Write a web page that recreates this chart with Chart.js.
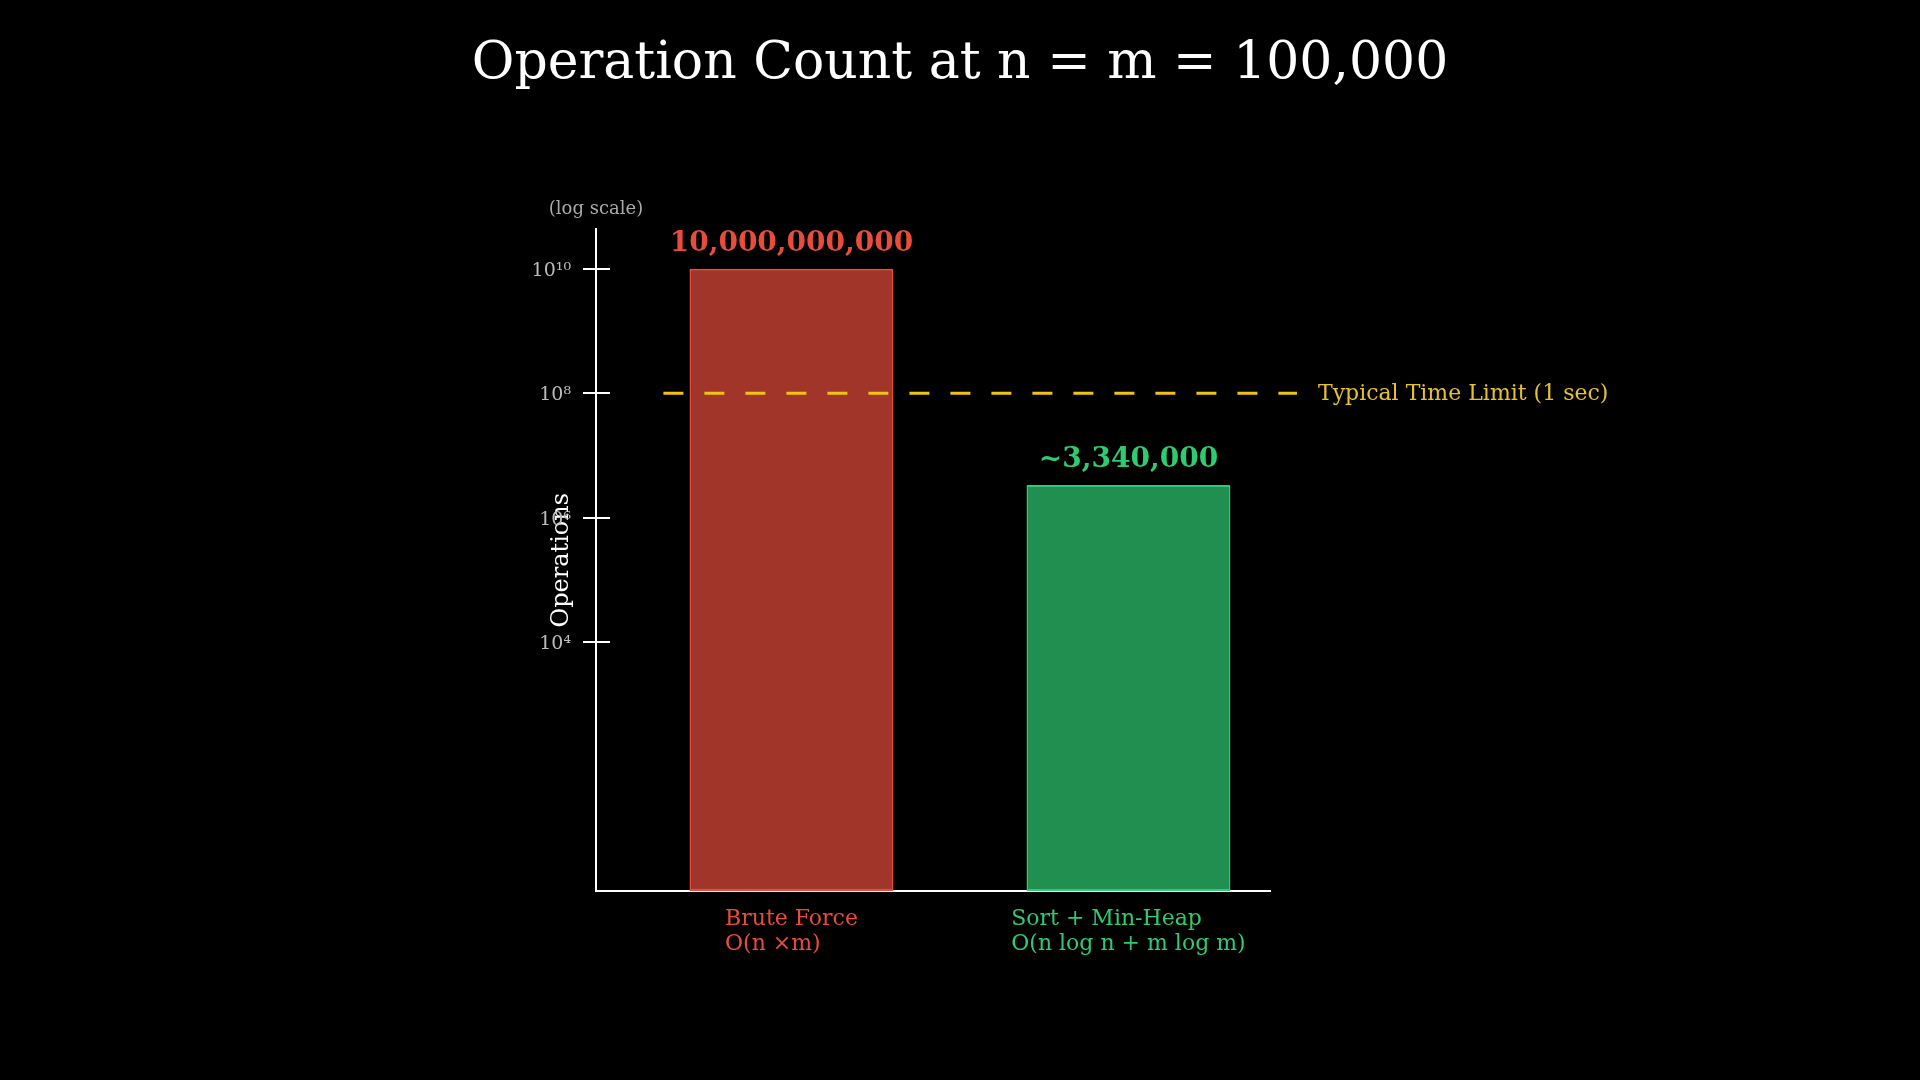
<!DOCTYPE html>
<html>
<head>
<meta charset="utf-8">
<script src="https://cdn.jsdelivr.net/npm/chart.js@4.4.1/dist/chart.umd.min.js"></script>
<style>
  html, body { margin: 0; padding: 0; background: #000; }
  canvas { display: block; }
</style>
</head>
<body>
<canvas id="canvas" width="1920" height="1080"></canvas>
<script>
// data
const categories = ['Brute Force', 'Sort + Min-Heap'];
const complexities = ['O(n ×m)', 'O(n log n + m log m)'];
const operations = [1e10, 3.34e6];
const valueLabels = ['10,000,000,000', '~3,340,000'];
const tickValues = [1e4, 1e6, 1e8, 1e10];
const tickLabels = ['10⁴', '10⁶', '10⁸', '10¹⁰'];
const timeLimit = 1e8;
const limitSpan = [-0.38, 1.5];
const limitLabel = 'Typical Time Limit (1 sec)';

const serif = '"DejaVu Serif", serif';
const barColors = ['#e74c3c', '#2ecc71'];
const barFills = ['rgba(231, 76, 60, 0.7)', 'rgba(46, 204, 113, 0.7)'];

// draws the extra text and crossing tick marks
const overlay = {
    id: 'overlay',
    afterDraw(chart) {
        const ctx = chart.ctx;
        const x = chart.scales.x;
        const y = chart.scales.y;
        const area = chart.chartArea;
        ctx.save();

        // ticks that cross the y axis
        ctx.strokeStyle = '#ffffff';
        ctx.lineWidth = 2;
        y.ticks.forEach((t) => {
            const py = Math.round(y.getPixelForValue(t.value));
            ctx.beginPath();
            ctx.moveTo(area.left - 13, py);
            ctx.lineTo(area.left + 14, py);
            ctx.stroke();
        });

        // (log scale) note
        ctx.fillStyle = '#aaaaaa';
        ctx.font = '18px ' + serif;
        ctx.textAlign = 'center';
        ctx.textBaseline = 'middle';
        ctx.fillText('(log scale)', area.left, area.top - 20);

        // value labels above bars
        const meta = chart.getDatasetMeta(0);
        ctx.font = 'bold 28px ' + serif;
        meta.data.forEach((bar, i) => {
            ctx.fillStyle = barColors[i];
            ctx.fillText(valueLabels[i], bar.x, bar.y - 25);
        });

        // category labels: block centred under bar, lines left aligned
        ctx.font = '22px ' + serif;
        ctx.textAlign = 'left';
        categories.forEach((c, i) => {
            const cx = x.getPixelForValue(i);
            const w = Math.max(ctx.measureText(c).width, ctx.measureText(complexities[i]).width);
            ctx.fillStyle = barColors[i];
            ctx.fillText(c, cx - w / 2, area.bottom + 28);
            ctx.fillText(complexities[i], cx - w / 2, area.bottom + 53);
        });

        // time limit label
        ctx.fillStyle = '#e8c12e';
        ctx.font = '22px ' + serif;
        ctx.fillText(limitLabel, x.getPixelForValue(limitSpan[1]) + 21, y.getPixelForValue(timeLimit) + 1);

        ctx.restore();
    }
};

var ctx = document.getElementById('canvas').getContext('2d');
var opChart = new Chart(ctx, {
    type: 'bar',
    data: {
        datasets: [{
            type: 'bar',
            label: 'operations',
            data: operations.map((v, i) => ({ x: i, y: v })),
            backgroundColor: barFills,
            borderColor: barColors,
            borderWidth: 2,
            borderSkipped: false,
            categoryPercentage: 0.605,
            barPercentage: 1,
            order: 1
        }, {
            type: 'line',
            label: 'time limit',
            data: limitSpan.map((v) => ({ x: v, y: timeLimit })),
            borderColor: '#f1c40f',
            borderWidth: 3,
            borderDash: [20, 21],
            pointRadius: 0,
            fill: false,
            clip: false,
            order: 0
        }]
    },
    plugins: [overlay],
    options: {
        responsive: false,
        animation: false,
        layout: {
            padding: 0
        },
        plugins: {
            legend: { display: false },
            tooltip: { enabled: false },
            title: {
                display: true,
                text: 'Operation Count at n = m = 100,000',
                color: '#ffffff',
                font: { family: serif, size: 52, weight: 'normal' },
                padding: { top: 33, bottom: 134 }
            }
        },
        scales: {
            x: {
                type: 'linear',
                offset: false,
                min: -0.58,
                max: 1.42,
                grid: { display: false, offset: false },
                border: { display: true, color: '#ffffff', width: 2 },
                ticks: { display: false },
                afterBuildTicks: (s) => { s.ticks = categories.map((c, i) => ({ value: i })); },
                afterFit: (s) => { s.height = 189; }
            },
            y: {
                type: 'logarithmic',
                min: 1,
                max: 4.3e10,
                grid: { display: false, drawTicks: false },
                border: { display: true, color: '#ffffff', width: 2 },
                ticks: {
                    color: '#bbbbbb',
                    padding: 25,
                    labelOffset: 2,
                    font: { family: serif, size: 19 },
                    callback: (v) => tickLabels[tickValues.indexOf(v)]
                },
                afterBuildTicks: (s) => { s.ticks = tickValues.map((v) => ({ value: v })); },
                afterFit: (s) => { s.width = 596; },
                title: {
                    display: true,
                    text: 'Operations',
                    color: '#ffffff',
                    font: { family: serif, size: 24 },
                    padding: { top: 547, bottom: 0 }
                }
            },
            // empty right-hand box that keeps the plot area narrow
            yRight: {
                type: 'linear',
                position: 'right',
                display: true,
                grid: { display: false },
                border: { display: false },
                ticks: { display: false },
                afterFit: (s) => { s.width = 650; }
            }
        }
    }
});
</script>
</body>
</html>
